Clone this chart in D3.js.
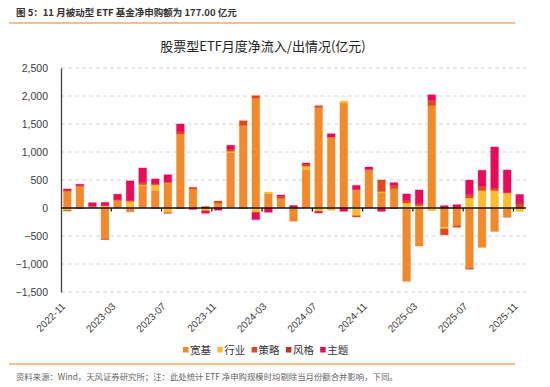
<!DOCTYPE html>
<html>
<head>
<meta charset="utf-8">
<script src="https://cdn.jsdelivr.net/npm/d3@7/dist/d3.min.js"></script>
<style>
  body { margin: 0; background: #fff; }
</style>
</head>
<body>
<div class="EtfFlow"></div>
<script>
const width = 550
const height = 387

// monthly net inflow (亿元)
const months = ["2022-11","2022-12","2023-01","2023-02","2023-03","2023-04","2023-05","2023-06","2023-07","2023-08",
  "2023-09","2023-10","2023-11","2023-12","2024-01","2024-02","2024-03","2024-04","2024-05","2024-06",
  "2024-07","2024-08","2024-09","2024-10","2024-11","2024-12","2025-01","2025-02","2025-03","2025-04",
  "2025-05","2025-06","2025-07","2025-08","2025-09","2025-10","2025-11"]
const kuanji = [300, 385, 30, -550, 137, -70, 400, 315, 458, 1320,
  340, -15, 90, 994, 1475, 1964, 256, 167, -238, 684,
  1797, 1267, 1874, 327, 684, 268, 345, -1310, -680, 1827,
  -343, -320, -1083, -704, -421, -169, 0]
const hangye = [-45, 0, 0, 40, 0, 120, 15, 100, -85, 0,
  0, -35, 0, 18, 0, -77, 30, 0, 0, 60,
  -60, -40, 36, -137, 0, 24, 0, 90, 40, -48,
  -30, 0, 180, 313, 313, 271, -65]
const celue = [20, 15, 5, -15, 10, 10, 40, 15, 0, 40,
  30, 0, 35, 40, 83, 42, 0, 42, 15, 42,
  30, 0, 0, -24, 0, 208, 60, 42, 36, 95,
  -108, -24, 60, 78, 42, 0, 60]
const fengge = [-10, -10, 0, 0, 0, 0, 0, -10, -10, -10,
  0, 25, 0, 0, -10, 0, 0, 0, 0, 0,
  0, 0, 0, 0, 0, 0, -10, 0, 0, 0,
  0, 0, -10, 0, 0, 0, 30]
const zhuti = [20, 25, 60, 60, 100, 355, 260, 90, 137, 140,
  -25, -45, -40, 70, 0, -131, -77, 24, 30, 18,
  -30, 60, -60, 77, 48, -60, 48, 120, 247, 100,
  42, 60, 259, 283, 735, 409, 152]

const series_names = ["宽基", "行业", "策略", "风格", "主题"]
const palette = ["#F28A2B", "#FBBD2C", "#E2471F", "#B8352A", "#E90A5B"]
const y_ticks = [-1500, -1000, -500, 0, 500, 1000, 1500, 2000, 2500]
const x_tick_labels = ["2022-11","2023-03","2023-07","2023-11","2024-03","2024-07","2024-11","2025-03","2025-07","2025-11"]

function drawEtfFlow() {
  const columns = [kuanji, hangye, celue, fengge, zhuti]
  const rows = months.map((m, i) => {
    const row = {month: m}
    series_names.forEach((s, j) => row[s] = columns[j][i])
    return row
  })

  const stacked = d3.stack()
    .keys(series_names)
    .offset(d3.stackOffsetDiverging)(rows)

  const x = d3.scaleBand()
    .domain(months)
    .range([61, 526])
    .paddingInner(0.38)
    .paddingOuter(0.19)

  const y = d3.scaleLinear()
    .domain([-1500, 2500])
    .range([292, 68])

  const color = d3.scaleOrdinal()
    .domain(series_names)
    .range(palette)

  const font = "'Liberation Sans', 'Noto Sans CJK SC', sans-serif"
  const cjk = "'Noto Sans CJK SC', sans-serif"

  const svg = d3.create("svg")
    .attr("width", width)
    .attr("height", height)
    .attr("viewBox", [0, 0, width, height])
    .style("background", "#fff")

  // header + rules
  svg.append("text")
    .attr("x", 16)
    .attr("y", 16)
    .style("font", `bold 9.5px ${cjk}`)
    .attr("fill", "#333")
    .text("图 5：11 月被动型 ETF 基金净申购额为 177.00 亿元")

  svg.append("line")
    .attr("x1", 9).attr("x2", 515)
    .attr("y1", 23).attr("y2", 23)
    .attr("stroke", "#F4A86B")
    .attr("stroke-width", 1.5)

  svg.append("line")
    .attr("x1", 9).attr("x2", 515)
    .attr("y1", 364).attr("y2", 364)
    .attr("stroke", "#F4A86B")
    .attr("stroke-width", 1.5)

  svg.append("text")
    .attr("x", 16)
    .attr("y", 380)
    .style("font", `8.4px ${cjk}`)
    .attr("fill", "#666")
    .text("资料来源：Wind，天风证券研究所；注：此处统计 ETF 净申购规模时均剔除当月份额合并影响，下同。")

  svg.append("text")
    .attr("x", 263)
    .attr("y", 51)
    .attr("text-anchor", "middle")
    .style("font", `13px ${cjk}`)
    .attr("fill", "#222")
    .text("股票型ETF月度净流入/出情况(亿元)")

  // grid
  svg.append("g")
    .selectAll()
    .data(y_ticks.filter(d => d !== 0))
    .join("line")
    .attr("x1", 61).attr("x2", 526)
    .attr("y1", d => y(d)).attr("y2", d => y(d))
    .attr("stroke", "#D6D6D6")
    .attr("stroke-dasharray", "4,3")

  // y axis
  const yAxis = svg.append("g")
    .attr("transform", "translate(61,0)")
    .call(d3.axisLeft(y).tickValues(y_ticks).tickSize(0).tickPadding(13)
      .tickFormat(d3.format(",")))
  yAxis.select(".domain").attr("stroke", "#404040").attr("stroke-width", 1.3)
  yAxis.selectAll("text")
    .style("font", `10.5px ${font}`)
    .attr("fill", "#404040")

  // bars
  svg.append("g")
    .selectAll("g")
    .data(stacked)
    .join("g")
    .attr("fill", d => color(d.key))
    .attr("stroke", d => color(d.key))
    .attr("stroke-opacity", 0.3)
    .selectAll("rect")
    .data(d => d.filter(p => p[1] !== p[0]))
    .join("rect")
    .attr("x", d => x(d.data.month))
    .attr("width", x.bandwidth())
    .attr("y", d => y(Math.max(d[0], d[1])))
    .attr("height", d => Math.abs(y(d[0]) - y(d[1])))
    .append("title")
    .text(d => `${d.data.month}`)

  // zero line with ticks at band starts
  svg.append("line")
    .attr("x1", 61).attr("x2", 526)
    .attr("y1", y(0)).attr("y2", y(0))
    .attr("stroke", "#111")
    .attr("stroke-width", 1.5)

  const band_start = m => x(m) - x.step() * x.paddingInner() / 2

  svg.append("g")
    .selectAll()
    .data(x_tick_labels.slice(1))
    .join("line")
    .attr("x1", d => band_start(d)).attr("x2", d => band_start(d))
    .attr("y1", y(0)).attr("y2", y(0) + 3.5)
    .attr("stroke", "#111")
    .attr("stroke-width", 1.2)

  svg.append("g")
    .selectAll()
    .data(x_tick_labels)
    .join("text")
    .attr("text-anchor", "end")
    .attr("transform", d => `translate(${band_start(d) + 5}, 307) rotate(-45)`)
    .style("font", `10px ${font}`)
    .attr("fill", "#404040")
    .text(d => d)

  // legend
  const legend = svg.append("g")
    .selectAll("g")
    .data(series_names)
    .join("g")
    .attr("transform", (d, i) => `translate(${183 + i * 34.3}, 350)`)

  legend.append("rect")
    .attr("x", 0).attr("y", -3)
    .attr("width", 5.5).attr("height", 5.5)
    .attr("fill", d => color(d))

  legend.append("text")
    .attr("x", 7)
    .attr("y", 4)
    .style("font", `10.5px ${cjk}`)
    .attr("fill", "#333")
    .text(d => d)

  const viz = svg.node()
  document.querySelector(".EtfFlow").append(viz)
}

drawEtfFlow()
</script>
</body>
</html>
